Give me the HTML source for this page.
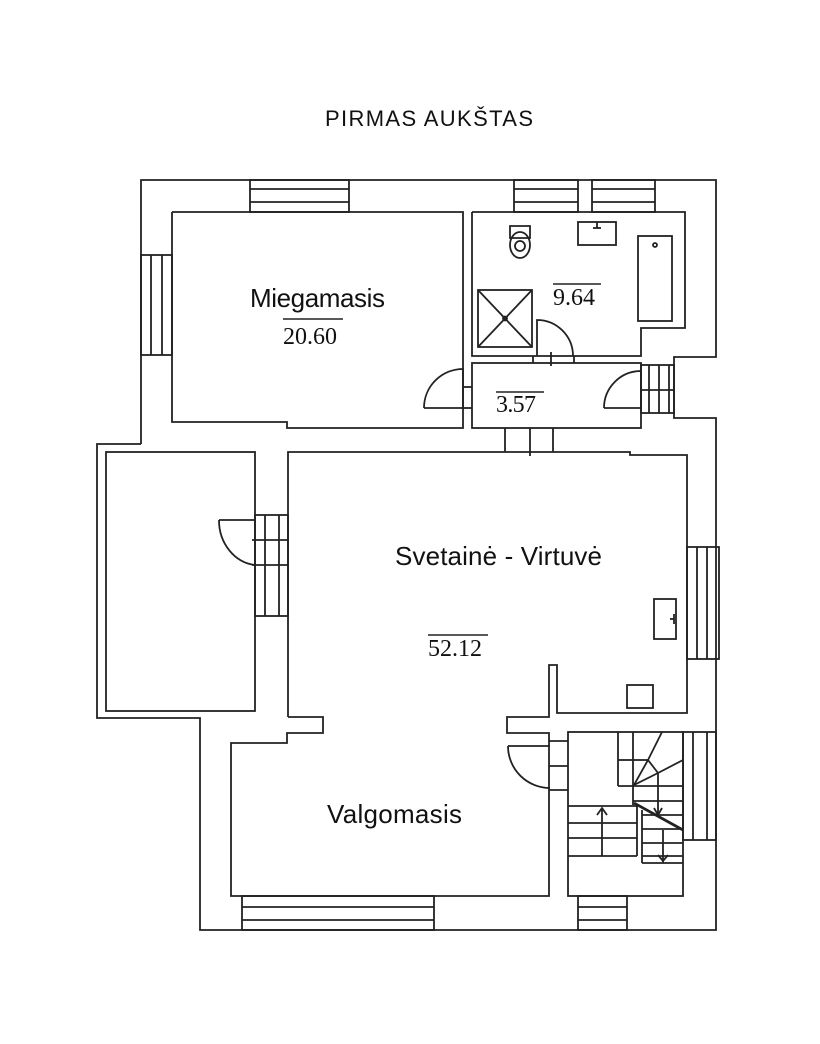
<!DOCTYPE html>
<html><head><meta charset="utf-8"><style>
html,body{margin:0;padding:0;background:#fff;}
svg{display:block}
text{font-family:"Liberation Sans",sans-serif;fill:#111}
.n{font-family:"Liberation Serif",serif;font-size:24px}
.l{font-size:26px}
</style></head><body>
<svg width="820" height="1044" viewBox="0 0 820 1044" xmlns="http://www.w3.org/2000/svg">
<text x="325" y="126" font-size="22" textLength="208">PIRMAS AUKŠTAS</text>
<g fill="none" stroke="#222" stroke-width="1.8">
<polyline points="141,444 141,180 716,180 716,357 674,357 674,418 716,418 716,930 200,930 200,718 97,718 97,444 141,444"/>
<rect x="250" y="180" width="99" height="32"/><line x1="250" y1="189" x2="349" y2="189"/><line x1="250" y1="202" x2="349" y2="202"/>
<rect x="514" y="180" width="64" height="32"/><line x1="514" y1="189" x2="578" y2="189"/><line x1="514" y1="202" x2="578" y2="202"/>
<rect x="592" y="180" width="63" height="32"/><line x1="592" y1="189" x2="655" y2="189"/><line x1="592" y1="202" x2="655" y2="202"/>
<rect x="141" y="255" width="31" height="100"/><line x1="151" y1="255" x2="151" y2="355"/><line x1="162" y1="255" x2="162" y2="355"/>
<polyline points="172,212 463,212 463,428 287,428 287,422 172,422 172,212"/>
<polyline points="472,212 685,212 685,328 641,328 641,356 472,356 472,212"/>
<line x1="533" y1="356" x2="533" y2="363"/><line x1="574" y1="356" x2="574" y2="363"/><line x1="551" y1="352" x2="551" y2="366"/>
<path d="M537,356 L537,320 A36,36 0 0 1 573,356"/>
<rect x="478" y="290" width="54" height="57"/><line x1="478" y1="290" x2="532" y2="347"/><line x1="532" y1="290" x2="478" y2="347"/><circle cx="505" cy="318.5" r="2"/>
<path d="M510,226 h20 v12 h-20 z"/><ellipse cx="520" cy="245" rx="10" ry="13"/><circle cx="520" cy="246" r="5"/>
<rect x="578" y="222" width="38" height="23"/><line x1="597" y1="222" x2="597" y2="228"/><line x1="593" y1="228" x2="601" y2="228"/>
<rect x="638" y="236" width="34" height="85"/><circle cx="655" cy="245" r="2"/>
<rect x="472" y="363" width="169" height="65"/>
<line x1="463" y1="387" x2="472" y2="387"/><line x1="463" y1="408" x2="472" y2="408"/>
<path d="M424,408 L463,408 L463,369 A39,39 0 0 0 424,408"/>
<path d="M604,408 L641,408 L641,371 A37,37 0 0 0 604,408"/>
<rect x="641" y="365" width="33" height="48"/><line x1="649" y1="365" x2="649" y2="413"/><line x1="659" y1="365" x2="659" y2="413"/><line x1="669" y1="365" x2="669" y2="413"/><line x1="641" y1="390" x2="674" y2="390"/>
<line x1="505" y1="428" x2="505" y2="452"/><line x1="553" y1="428" x2="553" y2="452"/><line x1="530" y1="428" x2="530" y2="456"/>
<rect x="106" y="452" width="149" height="259"/>
<polyline points="288,717 288,452 630,452 630,455 687,455 687,713 557,713 557,665 549,665 549,717 507,717 507,733 549,733 549,896 231,896 231,743 287,743 287,733 323,733 323,717 288,717"/>
<rect x="255" y="515" width="33" height="101"/>
<line x1="265" y1="515" x2="265" y2="616"/><line x1="279" y1="515" x2="279" y2="616"/>
<line x1="252" y1="540" x2="288" y2="540"/><line x1="252" y1="565" x2="288" y2="565"/>
<path d="M219,520 L255,520 M219,520 A40,45 0 0 0 255,565"/>
<rect x="687" y="547" width="32" height="112"/><line x1="697" y1="547" x2="697" y2="659"/><line x1="707" y1="547" x2="707" y2="659"/>
<rect x="654" y="599" width="22" height="40"/><line x1="674" y1="614" x2="674" y2="624"/><line x1="670" y1="619" x2="674" y2="619"/>
<rect x="627" y="685" width="26" height="23"/>
<rect x="242" y="896" width="192" height="34"/><line x1="242" y1="907" x2="434" y2="907"/><line x1="242" y1="920" x2="434" y2="920"/>
<rect x="578" y="896" width="49" height="34"/><line x1="578" y1="907" x2="627" y2="907"/><line x1="578" y1="920" x2="627" y2="920"/>
<rect x="568" y="732" width="115" height="164"/>
<line x1="549" y1="741" x2="568" y2="741"/><line x1="549" y1="766" x2="568" y2="766"/><line x1="549" y1="790" x2="568" y2="790"/>
<path d="M508,746 L550,746 M508,746 A42,42 0 0 0 550,788"/>
<rect x="683" y="732" width="33" height="108"/><line x1="693" y1="732" x2="693" y2="840"/><line x1="707" y1="732" x2="707" y2="840"/>
<line x1="618" y1="732" x2="618" y2="786"/><line x1="618" y1="760" x2="633" y2="760"/><line x1="618" y1="786" x2="683" y2="786"/>
<line x1="633" y1="732" x2="633" y2="805"/>
<polyline points="662,732 648,760 634,785"/><line x1="633" y1="760" x2="648" y2="760"/>
<polyline points="634,785 658,773 683,760"/><line x1="648" y1="760" x2="658" y2="773"/>
<line x1="658" y1="773" x2="658" y2="815"/>
<line x1="633" y1="801" x2="683" y2="801"/>
<line x1="642" y1="815" x2="683" y2="815"/><line x1="642" y1="829" x2="683" y2="829"/><line x1="642" y1="843" x2="683" y2="843"/><line x1="642" y1="856" x2="683" y2="856"/>
<line x1="642" y1="810" x2="642" y2="863"/><line x1="642" y1="863" x2="683" y2="863"/>
<line x1="637" y1="805" x2="637" y2="856"/>
<line x1="568" y1="806" x2="637" y2="806"/><line x1="568" y1="823" x2="637" y2="823"/><line x1="568" y1="838" x2="637" y2="838"/><line x1="568" y1="856" x2="637" y2="856"/>
<line x1="602" y1="808" x2="602" y2="856"/><polyline points="597,815 602,808 607,815"/>
<line x1="634" y1="803" x2="683" y2="830" stroke-width="2.8"/>
<polyline points="654,808 658,815 662,808"/>
<line x1="663" y1="830" x2="663" y2="863"/><polyline points="658,855 663,861 668,855"/>
</g>
<g fill="none" stroke="#222" stroke-width="1.4">
<line x1="283" y1="319" x2="343" y2="319"/>
<line x1="553" y1="284" x2="601" y2="284"/>
<line x1="496" y1="392" x2="544" y2="392"/>
<line x1="428" y1="635" x2="488" y2="635"/>
</g>
<text class="l" x="250" y="307" textLength="135">Miegamasis</text>
<text class="n" x="283" y="344" textLength="54">20.60</text>
<text class="n" x="553" y="305" textLength="42">9.64</text>
<text class="n" x="496" y="412" textLength="40">3.57</text>
<text class="l" x="395" y="565" textLength="207">Svetainė - Virtuvė</text>
<text class="n" x="428" y="656" textLength="54">52.12</text>
<text class="l" x="327" y="823" textLength="135">Valgomasis</text>
</svg>
</body></html>
